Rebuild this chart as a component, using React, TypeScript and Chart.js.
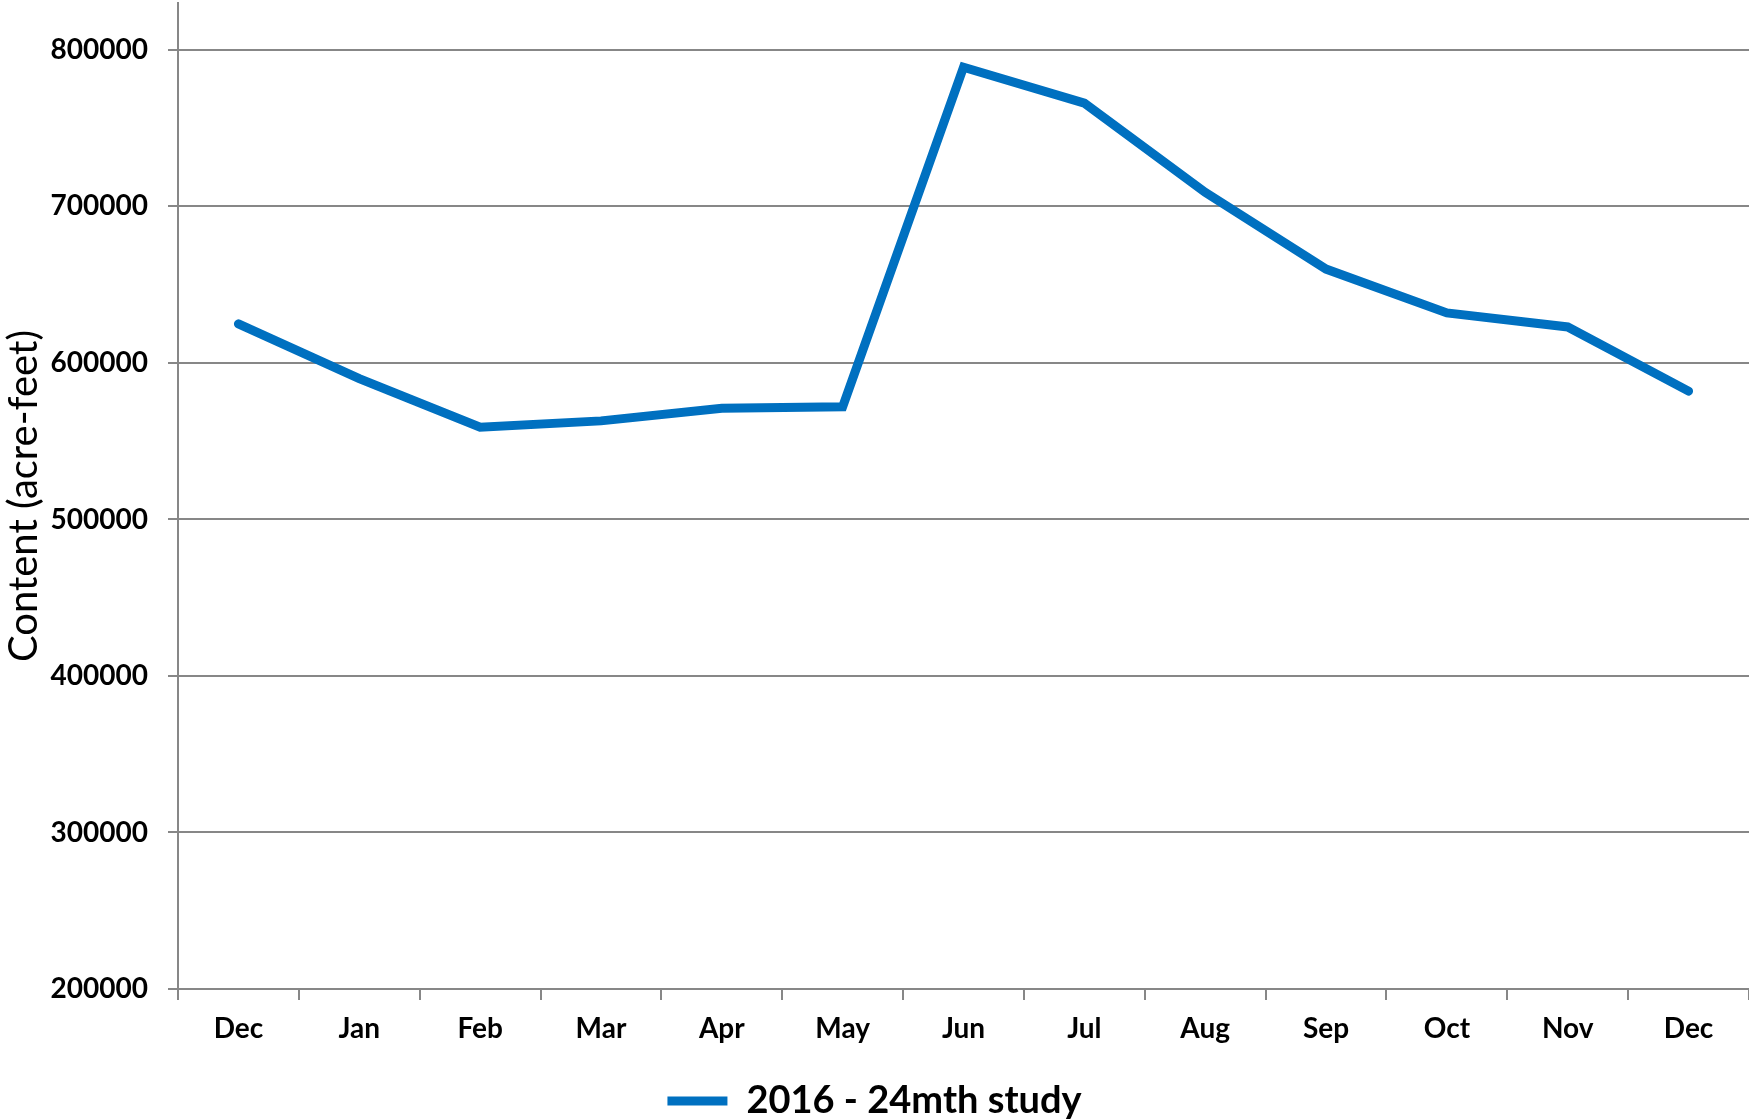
import React, { useEffect, useRef } from "react";
import { Chart, registerables } from "chart.js";

Chart.register(...registerables);

const categories = ["Dec", "Jan", "Feb", "Mar", "Apr", "May", "Jun", "Jul", "Aug", "Sep", "Oct", "Nov", "Dec"];
const seriesLabel = "2016 - 24mth study";
const contentValues = [625000, 590000, 559000, 563000, 571000, 572000, 789000, 766000, 709000, 660000, 632000, 623000, 582000];
const yTitle = "Content (acre-feet)";
const yTickValues = [200000, 300000, 400000, 500000, 600000, 700000, 800000];
const yMin = 200000;
const yMax = 830000;

const FONT = "Lato, 'Open Sans', sans-serif";
const GRID = "#878787";
const BLUE = "#0070C0";

export default function App() {
  const canvasRef = useRef<HTMLCanvasElement | null>(null);

  useEffect(() => {
    document.body.style.margin = "0";
    const canvas = canvasRef.current;
    if (!canvas) return;
    const chart = new Chart(canvas, {
      type: "line",
      data: {
        labels: categories,
        datasets: [
          {
            label: seriesLabel,
            data: contentValues,
            borderColor: BLUE,
            backgroundColor: BLUE,
            borderWidth: 9,
            borderCapStyle: "round",
            borderJoinStyle: "miter",
            pointRadius: 0,
            pointHoverRadius: 0,
            tension: 0,
            fill: false,
          },
        ],
      },
      options: {
        animation: false,
        responsive: false,
        maintainAspectRatio: false,
        devicePixelRatio: 1,
        layout: { padding: { top: 3, left: 0, right: 0, bottom: -10 } },
        plugins: {
          tooltip: { enabled: false },
          legend: {
            display: true,
            position: "bottom",
            labels: {
              usePointStyle: true,
              pointStyle: "line",
              pointStyleWidth: 60,
              padding: 0,
              color: "#000",
              font: { family: FONT, size: 38, weight: "bold" },
            },
          },
        },
        scales: {
          x: {
            type: "category",
            offset: true,
            afterFit: (scale: any) => {
              scale.height = 93;
            },
            grid: {
              display: true,
              offset: true,
              drawOnChartArea: false,
              drawTicks: true,
              tickLength: 11,
              color: GRID,
              lineWidth: 2,
            },
            border: { display: true, color: GRID, width: 2 },
            ticks: {
              color: "#000",
              padding: 12,
              maxRotation: 0,
              autoSkip: false,
              font: { family: FONT, size: 28, weight: "bold" },
            },
          },
          y: {
            type: "linear",
            min: yMin,
            max: yMax,
            afterFit: (scale: any) => {
              scale.width = 178;
              scale.paddingTop = 0;
              scale.paddingBottom = 0;
            },
            afterBuildTicks: (scale: any) => {
              scale.ticks = yTickValues.map((v) => ({ value: v }));
            },
            grid: {
              display: true,
              drawTicks: true,
              tickLength: 10,
              color: GRID,
              lineWidth: 2,
            },
            border: { display: true, color: GRID, width: 2 },
            ticks: {
              color: "#000",
              padding: 20,
              font: { family: FONT, size: 28, weight: "bold" },
              callback: (v: any) => String(v),
            },
            title: {
              display: true,
              text: yTitle,
              color: "#000",
              padding: { top: 0, bottom: 0 },
              font: { family: FONT, size: 40, weight: "normal" },
            },
          },
        },
      },
    });
    return () => chart.destroy();
  }, []);

  return (
    <div style={{ width: 1749, height: 1120, background: "#fff" }}>
      <canvas ref={canvasRef} width={1749} height={1120} style={{ display: "block", width: 1749, height: 1120 }} />
    </div>
  );
}
